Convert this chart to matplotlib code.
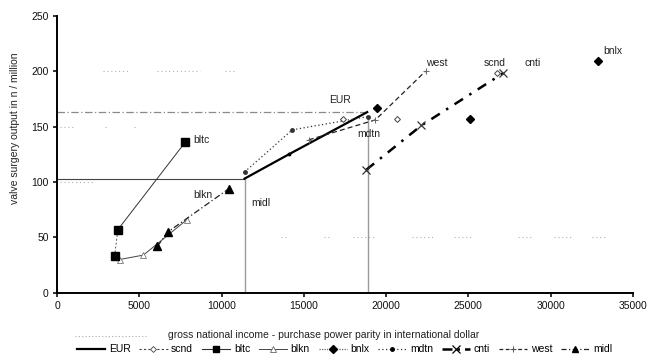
import matplotlib
matplotlib.use("Agg")
import matplotlib.pyplot as plt
from matplotlib.lines import Line2D

plt.rcParams['font.family'] = ['Liberation Sans', 'DejaVu Sans']

# Regional series: gross national income (PPP, int. $) vs valve surgery output (n / million)
eur_x = [11400, 14100, 18850]
eur_y = [103, 125, 163]

scnd_x = [17400, 20650, 26750]
scnd_y = [157, 157, 198]

bltc_x = [3500, 3700, 7800]
bltc_y = [33, 57, 136]

blkn_x = [3800, 5250, 7900]
blkn_y = [30, 34, 66]

bnlx_x = [19450, 25100, 32850]
bnlx_y = [167, 157, 209]

mdtn_x = [11400, 14300, 18900]
mdtn_y = [109, 147, 159]

cnti_x = [18800, 22150, 27100]
cnti_y = [111, 151, 198]

west_x = [15300, 19350, 22400]
west_y = [138, 156, 200]

midl_x = [6100, 6750, 10450]
midl_y = [42, 55, 94]

# European reference point and the "middle" reference point
eur_ref = (18850, 163)
midl_ref = (11400, 103)
mdtn_ref_x = 18900

x_ticks = [0, 5000, 10000, 15000, 20000, 25000, 30000, 35000]
y_ticks = [0, 50, 100, 150, 200, 250]

fig = plt.figure(figsize=(6.5, 3.61), dpi=100)
ax = fig.add_axes([0.0877, 0.189, 0.886, 0.7675])

# faint, broken dotted grid remnants
grid_bits = [
    (200, 2800, 4400), (200, 6100, 8700), (200, 10200, 10800),
    (150, 200, 1100), (150, 2900, 3100), (150, 4700, 4900),
    (100, 200, 2300),
    (50, 13600, 13900), (50, 16200, 16500), (50, 18000, 19300),
    (50, 21600, 23000), (50, 24100, 25200), (50, 28000, 28800),
    (50, 30200, 31300), (50, 32500, 33300),
]
for gy, gx0, gx1 in grid_bits:
    ax.plot([gx0, gx1], [gy, gy], color='#b0b0b0', lw=0.8,
            linestyle=(0, (1, 2.5)), zorder=1)

# reference lines
ax.plot([0, eur_ref[0]], [eur_ref[1], eur_ref[1]], color='#8a8a8a', lw=0.9,
        linestyle=(0, (6, 2, 1, 2)), zorder=2)
ax.plot([0, midl_ref[0]], [midl_ref[1], midl_ref[1]], color='#444444', lw=0.8, zorder=2)
ax.plot([midl_ref[0], midl_ref[0]], [0, midl_ref[1]], color='#9a9a9a', lw=1.0, zorder=2)
ax.plot([mdtn_ref_x, mdtn_ref_x], [0, mdtn_y[-1]], color='#9a9a9a', lw=1.0, zorder=2)

k = 'black'
ax.plot(eur_x, eur_y, color=k, lw=1.6, zorder=4)
ax.plot(eur_x[1:2], eur_y[1:2], 'o', color=k, ms=1.8, zorder=4)
ax.plot(scnd_x, scnd_y, linestyle='none', marker='D', ms=3, mfc='white',
        mec='#444444', mew=0.7, zorder=5)
ax.plot(bltc_x[:2], bltc_y[:2], color='#555555', lw=0.7, linestyle=(0, (2, 2)), zorder=3)
ax.plot(bltc_x[1:], bltc_y[1:], color='#333333', lw=0.7, zorder=3)
ax.plot(bltc_x, bltc_y, linestyle='none', marker='s', ms=5.5, color=k, zorder=5)
ax.plot(blkn_x, blkn_y, color='#444444', lw=0.7, marker='^', ms=5, mfc='white',
        mec='#777777', mew=0.6, zorder=3)
ax.plot(bnlx_x, bnlx_y, linestyle='none', marker='D', ms=4.5, color=k, zorder=5)
ax.plot(mdtn_x, mdtn_y, color='#333333', lw=0.9, linestyle=(0, (1, 2)),
        marker='o', ms=2.5, zorder=4)
ax.plot(cnti_x, cnti_y, color=k, lw=1.8, linestyle=(0, (4, 3, 1, 3)),
        marker='x', ms=6, mew=0.9, mec='#333333', zorder=4)
ax.plot(west_x, west_y, color='#222222', lw=0.9, linestyle=(0, (4, 2.5)),
        marker='+', ms=5, mew=0.7, mec='#666666', zorder=4)
ax.plot(midl_x, midl_y, color='#222222', lw=0.9, linestyle=(0, (5, 2, 1, 2)),
        marker='^', ms=5.5, mfc=k, mec=k, zorder=5)

# series labels
fs = 7.5
lab = dict(fontsize=fs, color='#222222')
ax.text(8300, 138, 'bltc', ha='left', va='center', **lab)
ax.text(8850, 88, 'blkn', ha='center', va='center', **lab)
ax.text(12400, 81, 'midl', ha='center', va='center', **lab)
ax.text(17200, 174, 'EUR', ha='center', va='center', **lab)
ax.text(18950, 143, 'mdtn', ha='center', va='center', **lab)
ax.text(22400, 207, 'west', ha='left', va='center', **lab)
ax.text(26600, 207, 'scnd', ha='center', va='center', **lab)
ax.text(28900, 207, 'cnti', ha='center', va='center', **lab)
ax.text(33200, 218, 'bnlx', ha='left', va='center', **lab)

ax.set_xlim(0, 35000)
ax.set_ylim(0, 250)
ax.set_xticks(x_ticks)
ax.set_yticks(y_ticks)
ax.tick_params(direction='out', length=3, width=1.2, labelsize=7.5, pad=3,
               colors='#111111')
for s in ('top', 'right'):
    ax.spines[s].set_visible(False)
for s in ('left', 'bottom'):
    ax.spines[s].set_linewidth(1.4)

ax.set_xlabel('gross national income - purchase power parity in international dollar',
              fontsize=7.5, color='#222222')
ax.set_ylabel('valve surgery output in n / million', fontsize=7.5, color='#222222')
ax.xaxis.set_label_coords(0.4635, -0.135)
ax.yaxis.set_label_coords(-0.064, 0.595)

handles = [
    Line2D([], [], color=k, lw=1.6),
    Line2D([], [], color='#444444', lw=0.8, linestyle=(0, (2, 2)), marker='D', ms=3,
           mfc='white', mec='#444444', mew=0.6),
    Line2D([], [], color='#333333', lw=0.8, marker='s', ms=5, mfc=k, mec=k),
    Line2D([], [], color='#444444', lw=0.7, marker='^', ms=5, mfc='white',
           mec='#666666', mew=0.6),
    Line2D([], [], color='#666666', lw=0.9, linestyle=(0, (1, 1)), marker='D', ms=4.5,
           mfc=k, mec=k),
    Line2D([], [], color='#333333', lw=0.9, linestyle=(0, (1, 2)), marker='o', ms=2.5,
           mfc=k, mec=k),
    Line2D([], [], color=k, lw=1.8, linestyle=(0, (4, 2, 1, 2)), marker='x', ms=6,
           mew=0.9),
    Line2D([], [], color='#222222', lw=0.9, linestyle=(0, (3, 2)), marker='+', ms=5,
           mew=0.7, mec='#555555'),
    Line2D([], [], color='#222222', lw=0.9, linestyle=(0, (4, 2, 1, 2)), marker='^',
           ms=5, mfc=k, mec=k),
]
names = ['EUR', 'scnd', 'bltc', 'blkn', 'bnlx', 'mdtn', 'cnti', 'west', 'midl']
fig.legend(handles, names, loc='center', bbox_to_anchor=(0.53, 0.032), ncol=9,
           frameon=False, fontsize=7.5, handlelength=2.7, handletextpad=0.35,
           columnspacing=0.85, borderaxespad=0)

# dotted frame remnant above the legend
fig.lines.append(Line2D([0.115, 0.225], [0.068, 0.068], transform=fig.transFigure,
                        color='#aaaaaa', lw=0.8, linestyle=(0, (1, 2))))

fig.savefig('out.png', dpi=100)
